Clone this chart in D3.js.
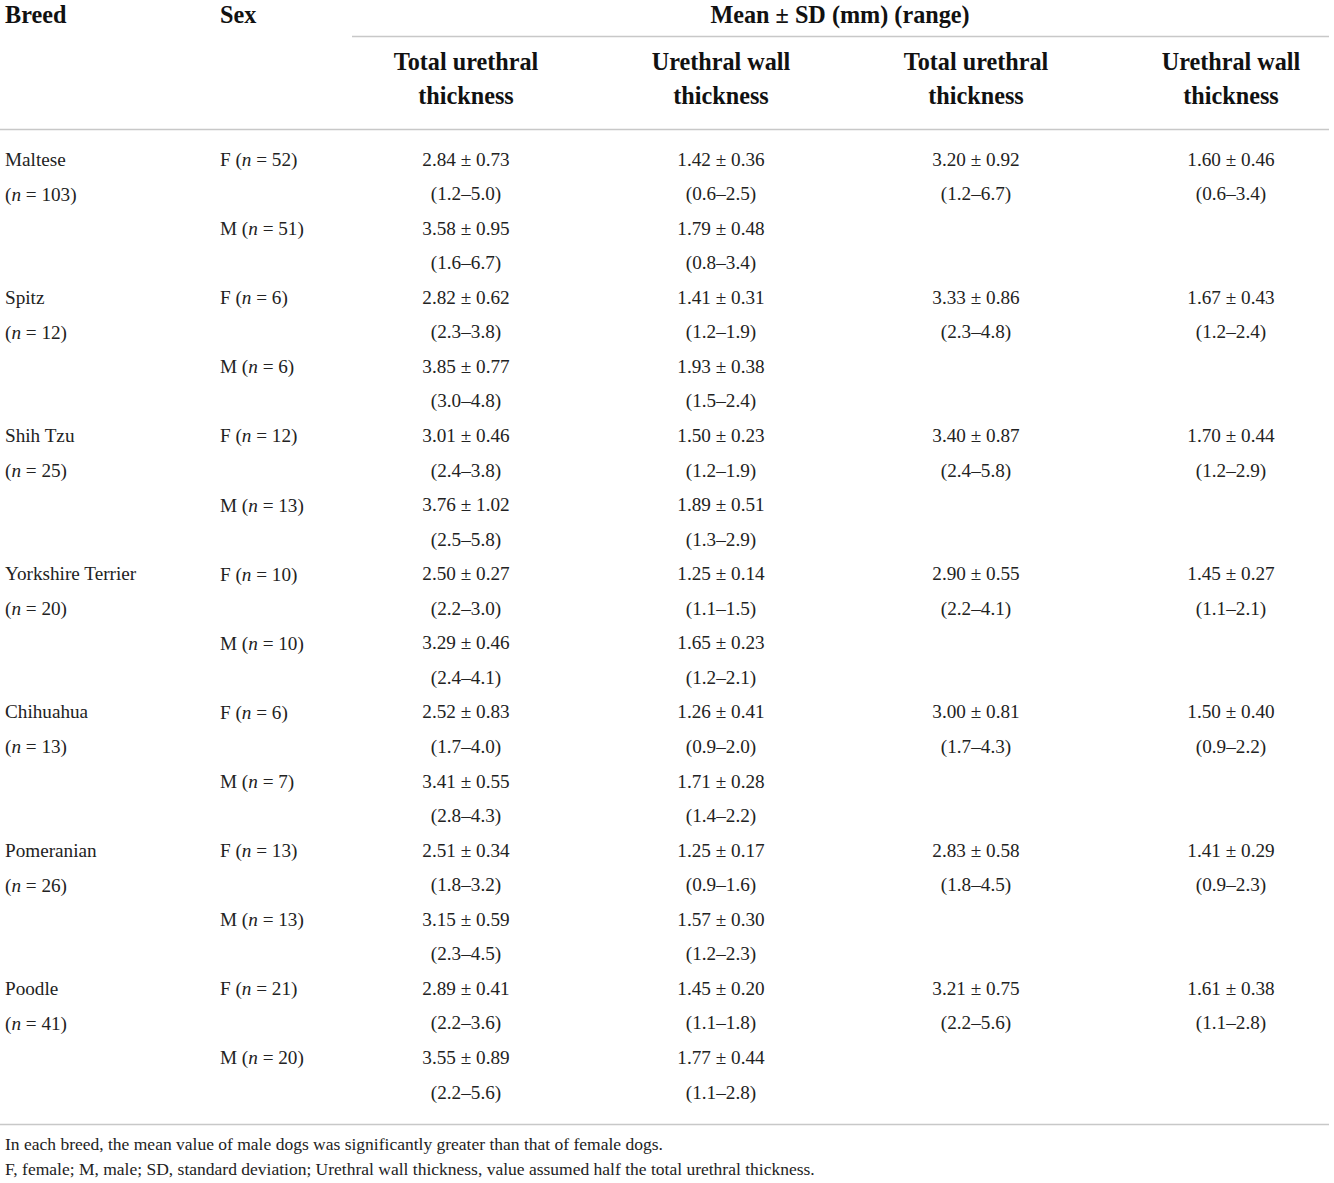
<!DOCTYPE html>
<html><head><meta charset="utf-8">
<script src="https://cdn.jsdelivr.net/npm/d3@7"></script>
<style>
html,body{margin:0;padding:0;background:#fff;}
svg{display:block;font-family:"Liberation Serif","DejaVu Serif",serif;}
</style></head>
<body>
<script>
const breeds = ["Maltese","Spitz","Shih Tzu","Yorkshire Terrier","Chihuahua","Pomeranian","Poodle"];
const breedN = [103,12,25,20,13,26,41];
const femaleN = [52,6,12,10,6,13,21];
const maleN = [51,6,13,10,7,13,20];
const femaleTotal = ["2.84 ± 0.73","2.82 ± 0.62","3.01 ± 0.46","2.50 ± 0.27","2.52 ± 0.83","2.51 ± 0.34","2.89 ± 0.41"];
const femaleTotalRange = ["(1.2–5.0)","(2.3–3.8)","(2.4–3.8)","(2.2–3.0)","(1.7–4.0)","(1.8–3.2)","(2.2–3.6)"];
const femaleWall = ["1.42 ± 0.36","1.41 ± 0.31","1.50 ± 0.23","1.25 ± 0.14","1.26 ± 0.41","1.25 ± 0.17","1.45 ± 0.20"];
const femaleWallRange = ["(0.6–2.5)","(1.2–1.9)","(1.2–1.9)","(1.1–1.5)","(0.9–2.0)","(0.9–1.6)","(1.1–1.8)"];
const maleTotal = ["3.58 ± 0.95","3.85 ± 0.77","3.76 ± 1.02","3.29 ± 0.46","3.41 ± 0.55","3.15 ± 0.59","3.55 ± 0.89"];
const maleTotalRange = ["(1.6–6.7)","(3.0–4.8)","(2.5–5.8)","(2.4–4.1)","(2.8–4.3)","(2.3–4.5)","(2.2–5.6)"];
const maleWall = ["1.79 ± 0.48","1.93 ± 0.38","1.89 ± 0.51","1.65 ± 0.23","1.71 ± 0.28","1.57 ± 0.30","1.77 ± 0.44"];
const maleWallRange = ["(0.8–3.4)","(1.5–2.4)","(1.3–2.9)","(1.2–2.1)","(1.4–2.2)","(1.2–2.3)","(1.1–2.8)"];
const breedTotal = ["3.20 ± 0.92","3.33 ± 0.86","3.40 ± 0.87","2.90 ± 0.55","3.00 ± 0.81","2.83 ± 0.58","3.21 ± 0.75"];
const breedTotalRange = ["(1.2–6.7)","(2.3–4.8)","(2.4–5.8)","(2.2–4.1)","(1.7–4.3)","(1.8–4.5)","(2.2–5.6)"];
const breedWall = ["1.60 ± 0.46","1.67 ± 0.43","1.70 ± 0.44","1.45 ± 0.27","1.50 ± 0.40","1.41 ± 0.29","1.61 ± 0.38"];
const breedWallRange = ["(0.6–3.4)","(1.2–2.4)","(1.2–2.9)","(1.1–2.1)","(0.9–2.2)","(0.9–2.3)","(1.1–2.8)"];
const colHeaders = [["Total urethral","thickness"],["Urethral wall","thickness"],["Total urethral","thickness"],["Urethral wall","thickness"]];
const headerTexts = ["Breed","Sex","Mean ± SD (mm) (range)"];
const footnotes = ["In each breed, the mean value of male dogs was significantly greater than that of female dogs.",
 "F, female; M, male; SD, standard deviation; Urethral wall thickness, value assumed half the total urethral thickness."];

const W = 1334, H = 1183;
const svg = d3.select("body").append("svg").attr("width", W).attr("height", H);

const lineColor = "#c8c8c8";
const nLines = breeds.length * 4;
const y = d3.scalePoint().domain(d3.range(nLines)).range([159, 1092]);
const colX = [466, 721, 976, 1231];
const breedX = 5, sexX = 220;
const dataSize = 19.2;

// rules
svg.append("line").attr("x1",352).attr("x2",1329).attr("y1",36.5).attr("y2",36.5).attr("stroke",lineColor).attr("stroke-width",1.6);
svg.append("line").attr("x1",0).attr("x2",1329).attr("y1",129.5).attr("y2",129.5).attr("stroke",lineColor).attr("stroke-width",1.6);
svg.append("line").attr("x1",0).attr("x2",1329).attr("y1",1124.5).attr("y2",1124.5).attr("stroke",lineColor).attr("stroke-width",1.6);

// header
const hg = svg.append("g").attr("font-weight","bold").attr("font-size",24.2).attr("fill","#111");
hg.append("text").attr("x",breedX).attr("y",14).attr("dominant-baseline","central").text(headerTexts[0]);
hg.append("text").attr("x",sexX).attr("y",14).attr("dominant-baseline","central").text(headerTexts[1]);
hg.append("text").attr("x",840).attr("y",14).attr("dominant-baseline","central").attr("text-anchor","middle").text(headerTexts[2]);
colHeaders.forEach((h,i)=>{
  h.forEach((t,j)=>{
    hg.append("text").attr("x",colX[i]).attr("y",61+34*j).attr("dominant-baseline","central").attr("text-anchor","middle").text(t);
  });
});

const g = svg.append("g").attr("font-size",dataSize).attr("fill","#222");
function nText(sel, prefix, n) {
  sel.append("tspan").text(prefix + "(");
  sel.append("tspan").attr("font-style","italic").text("n");
  sel.append("tspan").text(" = " + n + ")");
}
breeds.forEach((b,i)=>{
  const r = i*4;
  g.append("text").attr("x",breedX).attr("y",y(r)).attr("dominant-baseline","central").text(b);
  nText(g.append("text").attr("x",breedX).attr("y",y(r+1)).attr("dominant-baseline","central"), "", breedN[i]);
  nText(g.append("text").attr("x",sexX).attr("y",y(r)).attr("dominant-baseline","central"), "F ", femaleN[i]);
  nText(g.append("text").attr("x",sexX).attr("y",y(r+2)).attr("dominant-baseline","central"), "M ", maleN[i]);
  const cells = [
    [0,r,femaleTotal[i]],[0,r+1,femaleTotalRange[i]],
    [1,r,femaleWall[i]],[1,r+1,femaleWallRange[i]],
    [0,r+2,maleTotal[i]],[0,r+3,maleTotalRange[i]],
    [1,r+2,maleWall[i]],[1,r+3,maleWallRange[i]],
    [2,r,breedTotal[i]],[2,r+1,breedTotalRange[i]],
    [3,r,breedWall[i]],[3,r+1,breedWallRange[i]]
  ];
  cells.forEach(([c,row,t])=>{
    g.append("text").attr("x",colX[c]).attr("y",y(row)).attr("dominant-baseline","central").attr("text-anchor","middle").text(t);
  });
});

const fg = svg.append("g").attr("font-size",17.5).attr("fill","#222");
footnotes.forEach((t,i)=>{
  fg.append("text").attr("x",breedX).attr("y",1144+25*i).attr("dominant-baseline","central").text(t);
});
</script>
</body></html>
